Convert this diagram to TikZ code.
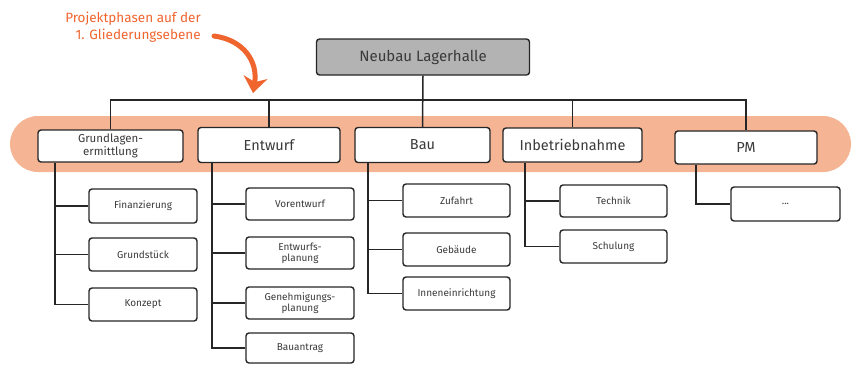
\documentclass[tikz,border=0pt]{standalone}
\usepackage{fontspec}
\setmainfont{Fira Sans}
\usetikzlibrary{arrows.meta}
\definecolor{band}{HTML}{F5B493}
\definecolor{accent}{HTML}{F0642E}
\definecolor{ink}{HTML}{262626}
\definecolor{label}{HTML}{3A3A3A}
\definecolor{rootfill}{HTML}{B3B3B3}
\tikzset{
  wire/.style={draw=ink, line width=1.5pt},
  box/.style={draw=ink, line width=1.4pt, rounded corners=3pt, fill=white,
    text=label, align=center, inner sep=1pt},
  phase/.style={box, font=\fontsize{14.5}{15.5}\selectfont},
  task/.style={box, font=\fontsize{10}{11}\selectfont, minimum width=108pt},
}
\begin{document}
\begin{tikzpicture}[x=1pt,y=-1pt]
\useasboundingbox (0,0) rectangle (853,365);

% highlighted band behind the first structure level
\fill[band, rounded corners=28pt] (10,116) rectangle (851,172);

% note with arrow
\node[text=accent, font=\fontsize{13.5}{17}\selectfont, align=right] (note) at (133,27)
  {Projektphasen auf der\\1. Gliederungsebene};
\coordinate (arrowstart) at (214,36);
\coordinate (arrowend) at (253,93);
\draw[accent, line width=5pt, line cap=round,
  -{Stealth[length=16pt,width=24pt,inset=5pt]}]
  (arrowstart) .. controls (244,40) and (258,62) .. (arrowend);

% root
\node[box, fill=rootfill, minimum width=213pt, minimum height=36pt,
  font=\fontsize{15}{16}\selectfont] (root) at (423,57) {Neubau Lagerhalle};

% first level
\node[box, minimum width=145pt, minimum height=32pt,
  font=\fontsize{11.5}{12.5}\selectfont] (gl) at (110.5,146) {Grundlagen-\\ermittlung};
\node[phase, minimum width=142pt, minimum height=35pt] (ew) at (269,145) {Entwurf};
\node[phase, minimum width=135pt, minimum height=35pt] (bau) at (422.5,145) {Bau};
\node[phase, minimum width=139pt, minimum height=34pt] (ib) at (572.5,145) {Inbetriebnahme};
\node[phase, minimum width=142pt, minimum height=33pt] (pm) at (746,147.5) {PM};

% bus between root and first level
\coordinate (bus) at (0,100);
\draw[wire] (root.south) -- (bau.north);
\draw[wire] (gl.north) -- (gl.north |- bus) -- (pm.north |- bus) -- (pm.north);
\draw[wire] (ew.north) -- (ew.north |- bus);
\draw[wire] (ib.north) -- (ib.north |- bus);

% second level: Grundlagenermittlung
\node[task, minimum height=34pt] (fin) at (143,206) {Finanzierung};
\node[task, minimum height=33pt] (grs) at (143,254.5) {Grundstück};
\node[task, minimum height=33pt] (kon) at (143,304.5) {Konzept};
\coordinate (glstem) at (55,0);
\draw[wire] (glstem |- gl.south) |- (kon.west);
\foreach \c in {fin,grs} \draw[wire] (glstem |- \c.west) -- (\c.west);

% second level: Entwurf
\node[task, minimum height=32pt] (vor) at (300,204) {Vorentwurf};
\node[task, minimum height=32pt] (ewp) at (300,253) {Entwurfs-\\planung};
\node[task, minimum height=32pt] (gen) at (300,303) {Genehmigungs-\\planung};
\node[task, minimum height=30pt] (ant) at (300,348) {Bauantrag};
\coordinate (ewstem) at (212,0);
\draw[wire] (ewstem |- ew.south) |- (ant.west);
\foreach \c in {vor,ewp,gen} \draw[wire] (ewstem |- \c.west) -- (\c.west);

% second level: Bau
\node[task, minimum width=107pt, minimum height=33pt] (zuf) at (456.5,200.5) {Zufahrt};
\node[task, minimum width=107pt, minimum height=33pt] (geb) at (456.5,249.5) {Gebäude};
\node[task, minimum width=107pt, minimum height=33pt] (inn) at (456.5,293.5) {Inneneinrichtung};
\coordinate (baustem) at (368,0);
\draw[wire] (baustem |- bau.south) |- (inn.west);
\foreach \c in {zuf,geb} \draw[wire] (baustem |- \c.west) -- (\c.west);

% second level: Inbetriebnahme
\node[task, minimum width=107pt, minimum height=32pt] (tec) at (613.5,201) {Technik};
\node[task, minimum width=107pt, minimum height=33pt] (sch) at (613.5,246.5) {Schulung};
\coordinate (ibstem) at (525,0);
\draw[wire] (ibstem |- ib.south) |- (sch.west);
\draw[wire] (ibstem |- tec.west) -- (tec.west);

% second level: PM
\node[task, minimum width=109pt, minimum height=34pt] (dots) at (785.5,204) {...};
\coordinate (pmstem) at (696,0);
\draw[wire] (pmstem |- pm.south) |- (dots.west);
\end{tikzpicture}
\end{document}
